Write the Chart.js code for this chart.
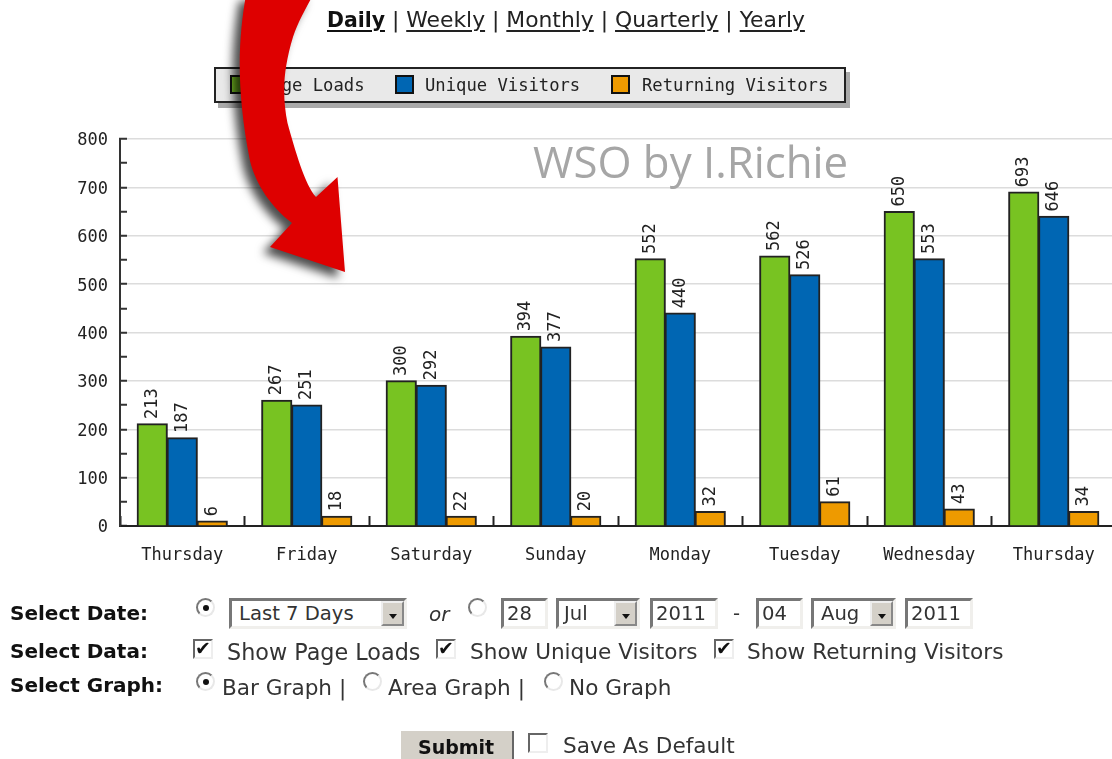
<!DOCTYPE html>
<html><head><meta charset="utf-8">
<script src="https://cdn.jsdelivr.net/npm/chart.js@4"></script>
<style>
html,body{margin:0;padding:0;background:#fff;overflow:hidden}
#page{position:relative;width:1112px;height:759px;overflow:hidden;font-family:"DejaVu Sans",sans-serif;color:#333;filter:blur(.35px)}
#page canvas{position:absolute;left:0;top:0}
.t{position:absolute;white-space:pre;line-height:24px;height:24px;transform:translateY(-12px)}
.b{font-weight:bold;font-size:20px;color:#111}
.f{font-size:21.6px;color:#333}
.m{font-size:19.6px;color:#333}
.nav{font-size:21.85px;color:#222}
.nav u{text-underline-offset:3px}
.box{position:absolute;box-sizing:border-box;background:#fff;border:3px solid #f0efec;border-left-color:#777;border-top-color:#777}
.btn{position:absolute;box-sizing:border-box;background:#d4d0c8;border:2px solid #888;border-left-color:#eee;border-top-color:#eee;width:23px}
.btn:after{content:"";position:absolute;left:6px;top:11px;border:4.5px solid transparent;border-top:5px solid #111;border-bottom:0}
.chk{position:absolute;box-sizing:border-box;width:20px;height:20px;background:#fff;border:2px solid #eee;border-left-color:#666;border-top-color:#666;color:#111;font:bold 19px/15px "DejaVu Sans";text-align:center;overflow:visible}
.rad{position:absolute;box-sizing:border-box;width:19px;height:19px;border-radius:50%;border:2px solid #e8e8e8;border-left-color:#777;border-top-color:#777;background:#fff}
.rad.on:after{content:"";position:absolute;left:4.5px;top:4.5px;width:6px;height:6px;border-radius:50%;background:#111}
#legend{position:absolute;left:214px;top:67px;width:632px;height:36px;box-sizing:border-box;background:#e9e9e9;border:2px solid #222;box-shadow:4px 5px 0 #aaa;font:17.2px/32px "DejaVu Sans Mono",monospace;color:#222}
#legend i{position:absolute;top:6px;width:19px;height:19px;box-sizing:border-box;border:2px solid #111}
#legend span{position:absolute;top:0;white-space:pre}
#wm{position:absolute;left:533px;top:133px;font:44px/56px "Open Sans",sans-serif;color:#a6a6a6;white-space:pre;transform:scaleX(.995);transform-origin:left}
#arrow{position:absolute;left:0;top:0;overflow:visible;filter:drop-shadow(-7px 6px 5px rgba(0,0,0,.7))}
</style></head>
<body><div id="page">
<canvas id="c" width="1130" height="600" style="width:1130px;height:600px"></canvas>

<div class="t nav" style="left:327px;top:20px"><u style="font-weight:bold;color:#111;font-size:20.4px">Daily</u> | <u>Weekly</u> | <u>Monthly</u> | <u>Quarterly</u> | <u>Yearly</u></div>
<div id="legend"></div>
<div id="wm">WSO by I.Richie</div>
<svg id="arrow" width="1112" height="300" viewBox="0 0 1112 300"><path fill="#de0000" d="M246 -5C238 40 236 90 250 161C256 185 272 208 292 223L270 247L345 272L337.5 177L316 197C305 185 295 150 287.5 123C282 95 283 70 293 37C298 22 305 10 313 -5Z"/></svg>

<div class="t b" style="left:10px;top:613px">Select Date:</div>
<div class="rad on" style="left:196px;top:598px"></div>
<div class="box" style="left:229px;top:598px;width:178px;height:31px"></div><div class="btn" style="left:381px;top:601px;height:25px"></div>
<div class="t m" style="left:239px;top:614px">Last 7 Days</div>
<div class="t f" style="left:429px;top:614px;font-style:italic;font-size:20px">or</div>
<div class="rad" style="left:468px;top:598px"></div>
<div class="box" style="left:501px;top:598px;width:47px;height:31px"></div><div class="t m" style="left:507px;top:614px">28</div>
<div class="box" style="left:556px;top:598px;width:84px;height:31px"></div><div class="btn" style="left:614px;top:601px;height:25px"></div><div class="t m" style="left:564px;top:614px">Jul</div>
<div class="box" style="left:650px;top:598px;width:68px;height:31px"></div><div class="t m" style="left:656px;top:614px">2011</div>
<div class="t m" style="left:733px;top:614px">-</div>
<div class="box" style="left:756px;top:598px;width:47px;height:31px"></div><div class="t m" style="left:762px;top:614px">04</div>
<div class="box" style="left:811px;top:598px;width:85px;height:31px"></div><div class="btn" style="left:870px;top:601px;height:25px"></div><div class="t m" style="left:821px;top:614px">Aug</div>
<div class="box" style="left:905px;top:598px;width:68px;height:31px"></div><div class="t m" style="left:911px;top:614px">2011</div>

<div class="t b" style="left:10px;top:651px">Select Data:</div>
<div class="chk" style="left:193px;top:639px">✔</div><div class="t f" style="left:227px;top:652px;font-size:22.3px">Show Page Loads</div>
<div class="chk" style="left:436px;top:639px">✔</div><div class="t f" style="left:470px;top:652px">Show Unique Visitors</div>
<div class="chk" style="left:714px;top:639px">✔</div><div class="t f" style="left:747px;top:652px">Show Returning Visitors</div>

<div class="t b" style="left:10px;top:685px">Select Graph:</div>
<div class="rad on" style="left:196px;top:672px"></div><div class="t f" style="left:222px;top:688px">Bar Graph |</div>
<div class="rad" style="left:363px;top:672px"></div><div class="t f" style="left:388px;top:688px">Area Graph |</div>
<div class="rad" style="left:544px;top:672px"></div><div class="t f" style="left:569px;top:688px">No Graph</div>

<div style="position:absolute;left:401px;top:731px;width:113px;height:40px;background:#d4d0c8;border-right:2px solid #666;box-sizing:border-box"></div>
<div class="t b" style="left:418px;top:747px;font-size:19px">Submit</div>
<div class="chk" style="left:528px;top:733px"></div>
<div class="t f" style="left:563px;top:746px">Save As Default</div>
</div>
<script>
const categories = ["Thursday","Friday","Saturday","Sunday","Monday","Tuesday","Wednesday","Thursday"];
const seriesNames = ["Page Loads","Unique Visitors","Returning Visitors"];
const seriesColors = ["#78c322","#0066b3","#ee9a00"];
const legendSwatchX = [16,181,397];
const legendTextX = [47,211,428];
// bar heights as drawn in the picture
const pageLoads = [211,260,300,392,552,558,650,690];
const uniqueVisitors = [182,250,291,370,440,519,552,640];
const returningVisitors = [10,20,20,20,30,50,35,30];
// numbers as printed above the bars
const pageLoadsLabels = [213,267,300,394,552,562,650,693];
const uniqueVisitorsLabels = [187,251,292,377,440,526,553,646];
const returningVisitorsLabels = [6,18,22,20,32,61,43,34];
const yMax = 800, yStep = 50;

const lg = document.getElementById('legend');
seriesNames.forEach((n,i)=>{
  lg.insertAdjacentHTML('beforeend',`<i style="left:${legendSwatchX[i]-2}px;background:${seriesColors[i]}"></i><span style="left:${legendTextX[i]-2}px">${n}</span>`);
});

const printed = [pageLoadsLabels,uniqueVisitorsLabels,returningVisitorsLabels];
const barLabels = {
  id:'barLabels',
  afterDatasetsDraw(chart){
    const ctx = chart.ctx;
    chart.data.datasets.forEach((d,i)=>{
      chart.getDatasetMeta(i).data.forEach((el,j)=>{
        ctx.save();
        ctx.translate(el.x, el.y-5);
        ctx.rotate(-Math.PI/2);
        ctx.font='17px "DejaVu Sans Mono", monospace';
        ctx.fillStyle='#222';
        ctx.textAlign='left';
        ctx.textBaseline='middle';
        ctx.fillText(String(printed[i][j]),0,0);
        ctx.restore();
      });
    });
  }
};
const mono = {family:'"DejaVu Sans Mono", monospace', size:17};
new Chart(document.getElementById('c'),{
  type:'bar',
  data:{labels:categories,datasets:[pageLoads,uniqueVisitors,returningVisitors].map((v,i)=>({
    label:seriesNames[i],data:v,backgroundColor:seriesColors[i],borderColor:'#222',borderWidth:2,
    barThickness:30,inflateAmount:0.6,borderSkipped:'bottom'
  }))},
  options:{
    responsive:false,animation:false,
    layout:{padding:{top:139,right:14,bottom:0,left:0}},
    plugins:{legend:{display:false},tooltip:{enabled:false}},
    scales:{
      x:{
        afterFit(s){s.height=74},
        border:{color:'#222',width:2},
        grid:{drawOnChartArea:false,tickLength:-10,tickColor:'#222',tickWidth:2,offset:true},
        ticks:{color:'#222',font:mono,padding:29,maxRotation:0,autoSkip:false}
      },
      y:{
        min:0,max:yMax,
        afterFit(s){s.width=120},
        border:{color:'#333',width:2},
        grid:{color:c=>c.tick.value%100===0?'#dcdcdc':'rgba(0,0,0,0)',lineWidth:1.5,tickColor:'#333',tickLength:-7,tickWidth:2},
        ticks:{stepSize:yStep,color:'#222',font:mono,padding:19,labelOffset:2,callback:v=>v%100===0?String(v):''}
      }
    }
  },
  plugins:[barLabels]
});
</script>
</body></html>
